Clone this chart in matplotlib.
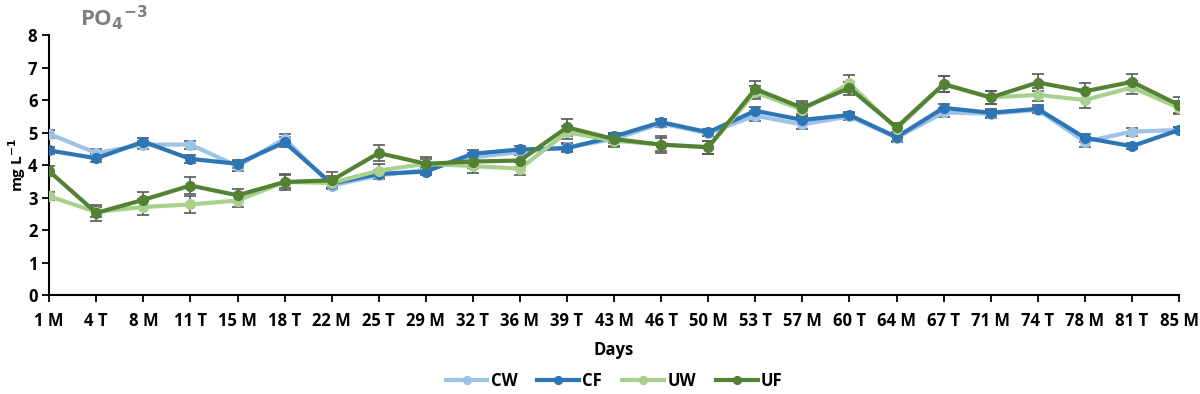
import matplotlib.pyplot as plt

# categories (sampling days)
days = ['1 M', '4 T', '8 M', '11 T', '15 M', '18 T', '22 M', '25 T', '29 M', '32 T',
        '36 M', '39 T', '43 M', '46 T', '50 M', '53 T', '57 M', '60 T', '64 M', '67 T',
        '71 M', '74 T', '78 M', '81 T', '85 M']

# series values (mg L-1)
cw = [4.96, 4.37, 4.63, 4.63, 3.97, 4.81, 3.37, 3.68, 3.85, 4.24, 4.40, 4.55, 4.80,
      5.28, 4.98, 5.52, 5.25, 5.50, 4.84, 5.62, 5.58, 5.70, 4.72, 5.03, 5.08]
cf = [4.45, 4.21, 4.72, 4.19, 4.04, 4.70, 3.43, 3.73, 3.80, 4.35, 4.48, 4.52, 4.88,
      5.32, 5.01, 5.67, 5.39, 5.54, 4.86, 5.76, 5.61, 5.73, 4.84, 4.58, 5.08]
uw = [3.04, 2.56, 2.71, 2.79, 2.91, 3.48, 3.45, 3.83, 4.04, 3.97, 3.89, 5.01, 4.75,
      4.63, 4.55, 6.24, 5.70, 6.51, 5.11, 6.49, 6.08, 6.16, 6.00, 6.39, 5.76]
uf = [3.81, 2.53, 2.93, 3.37, 3.07, 3.48, 3.53, 4.37, 4.04, 4.11, 4.14, 5.16, 4.80,
      4.63, 4.55, 6.34, 5.76, 6.37, 5.16, 6.49, 6.08, 6.54, 6.27, 6.56, 5.85]

cw_err = [0.12, 0.12, 0.12, 0.12, 0.15, 0.15, 0.12, 0.12, 0.10, 0.12, 0.10, 0.12, 0.12,
          0.10, 0.10, 0.15, 0.15, 0.10, 0.12, 0.15, 0.12, 0.10, 0.15, 0.12, 0.10]
cf_err = [0.10, 0.12, 0.12, 0.12, 0.12, 0.15, 0.12, 0.12, 0.10, 0.10, 0.10, 0.12, 0.12,
          0.10, 0.10, 0.12, 0.12, 0.10, 0.12, 0.12, 0.12, 0.12, 0.12, 0.10, 0.10]
uw_err = [0.12, 0.15, 0.25, 0.25, 0.20, 0.20, 0.20, 0.20, 0.15, 0.20, 0.20, 0.20, 0.20,
          0.20, 0.20, 0.20, 0.20, 0.25, 0.20, 0.25, 0.20, 0.20, 0.25, 0.20, 0.20]
uf_err = [0.15, 0.25, 0.25, 0.25, 0.20, 0.25, 0.25, 0.25, 0.20, 0.20, 0.20, 0.25, 0.20,
          0.25, 0.20, 0.25, 0.20, 0.20, 0.15, 0.25, 0.20, 0.25, 0.25, 0.25, 0.25]

series = [('CW', cw, cw_err, '#9dc3e6'),
          ('CF', cf, cf_err, '#2e75b6'),
          ('UW', uw, uw_err, '#a9d18e'),
          ('UF', uf, uf_err, '#548235')]

plt.rcParams['font.family'] = ['Open Sans', 'DejaVu Sans']
plt.rcParams['font.weight'] = 'bold'

fig = plt.figure(figsize=(12, 3.94), dpi=100)
ax = fig.add_axes([0.041, 0.251, 0.9415, 0.66])

x = list(range(len(days)))
for name, vals, err, col in series:
    ax.errorbar(x, vals, yerr=err, fmt='none', ecolor='#595959', elinewidth=1.2,
                capsize=4, capthick=1.2, zorder=2)
for name, vals, err, col in series:
    ax.plot(x, vals, color=col, lw=3, marker='o', markersize=7, label=name, zorder=3)

ax.set_xlim(0, len(days) - 1)
ax.set_ylim(0, 8)
ax.set_xticks(x)
ax.set_xticklabels(days, fontsize=12, fontweight='bold')
ax.set_yticks(range(0, 9))
ax.set_yticklabels([str(i) for i in range(0, 9)], fontsize=12, fontweight='bold')
ax.tick_params(axis='both', direction='out', length=5, width=1.3, color='black')
ax.tick_params(axis='x', pad=7)

for s in ['top', 'right']:
    ax.spines[s].set_visible(False)
for s in ['left', 'bottom']:
    ax.spines[s].set_linewidth(1.5)

ax.set_xlabel('Days', fontsize=12, fontweight='bold', labelpad=8)
ax.set_ylabel('mg L$^{\\mathbf{-1}}$', fontsize=11, fontweight='bold')
ax.yaxis.set_label_coords(-0.019, 0.5)

fig.text(0.067, 0.955, 'PO$_\\mathbf{4}$$^\\mathbf{-3}$', fontsize=16, fontweight='bold',
         color='#7f7f7f', va='center')

ax.legend(loc='center', bbox_to_anchor=(0.5, -0.33), ncol=4, frameon=False,
          fontsize=12, handlelength=2.5, columnspacing=1.2, handletextpad=0.2,
          markerscale=0.8)

fig.savefig('out.png', dpi=100)
